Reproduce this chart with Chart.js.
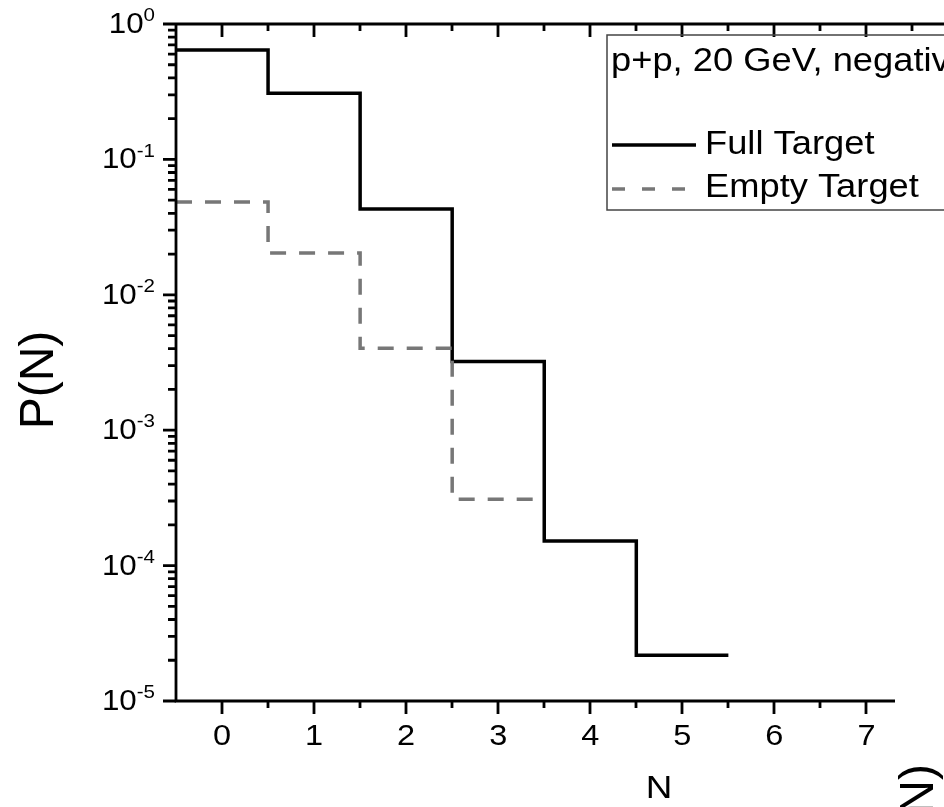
<!DOCTYPE html>
<html>
<head>
<meta charset="utf-8">
<script src="https://cdn.jsdelivr.net/npm/chart.js@4/dist/chart.umd.min.js"></script>
<style>
  html, body { margin: 0; padding: 0; background: #fff; }
  #wrap { width: 944px; height: 807px; position: relative; }
</style>
</head>
<body>
<div id="wrap"><canvas id="multChart" width="944" height="807"></canvas></div>
<script>
// multiplicity bins N and the probability in each bin
const binsFull = [0, 1, 2, 3, 4, 5];
const probFull = [0.642, 0.308, 0.043, 0.00321, 0.000152, 0.0000218];

const binsEmpty = [0, 1, 2, 3];
const probEmpty = [0.0485, 0.0204, 0.00403, 0.000309];

const xTicks = [0, 1, 2, 3, 4, 5, 6, 7];
const yDecades = [-5, -4, -3, -2, -1, 0];

const legendTitle = 'p+p, 20 GeV, negative';
const seriesNames = ['Full Target', 'Empty Target'];

const FONT = '"Liberation Sans", Arial, sans-serif';

// turn bin centres into a histogram outline: each bin spans n-0.5 .. n+0.5
function histPoints(bins, vals) {
    const pts = [];
    bins.forEach((n, i) => {
        pts.push({ x: n - 0.5, y: vals[i] });
        pts.push({ x: n + 0.5, y: vals[i] });
    });
    return pts;
}

// text in this figure is a little wider than the plain font
function wideText(ctx, str, x, y, sx) {
    ctx.save();
    ctx.translate(x, y);
    ctx.scale(sx, 1);
    ctx.fillText(str, 0, 0);
    ctx.restore();
}

// axes, ticks, labels and legend are drawn by hand to get the inward/outward tick style
const frame = {
    id: 'frame',
    afterDraw(chart) {
        const ctx = chart.ctx;
        const xs = chart.scales.x;
        const ys = chart.scales.y;
        const a = chart.chartArea;
        ctx.save();
        ctx.strokeStyle = '#000';
        ctx.fillStyle = '#000';
        ctx.lineWidth = 2.8;
        ctx.lineCap = 'butt';

        // axis lines
        ctx.beginPath();
        ctx.moveTo(a.left, a.top);
        ctx.lineTo(a.left, a.bottom);
        ctx.lineTo(a.right, a.bottom);
        ctx.moveTo(a.left, a.top);
        ctx.lineTo(chart.width + 5, a.top);
        ctx.stroke();

        // x ticks: bottom outward, top inward
        ctx.beginPath();
        for (let v = 0; v <= 8; v += 0.5) {
            const px = Math.round(xs.getPixelForValue(v));
            const major = v % 1 === 0;
            const len = major ? 13 : 7;
            if (px <= a.right) {
                ctx.moveTo(px, a.bottom);
                ctx.lineTo(px, a.bottom + len);
            }
            if (px <= chart.width) {
                ctx.moveTo(px, a.top);
                ctx.lineTo(px, a.top + len);
            }
        }
        ctx.stroke();

        // y ticks: decades and minor 2..9, outward
        ctx.beginPath();
        yDecades.forEach(d => {
            const base = Math.pow(10, d);
            const py = ys.getPixelForValue(base);
            ctx.moveTo(a.left, py);
            ctx.lineTo(a.left - 13, py);
            if (d < 0) {
                for (let m = 2; m <= 9; m++) {
                    const my = ys.getPixelForValue(base * m);
                    ctx.moveTo(a.left, my);
                    ctx.lineTo(a.left - 8, my);
                }
            }
        });
        ctx.stroke();

        // x tick labels
        ctx.font = '29px ' + FONT;
        ctx.textAlign = 'center';
        ctx.textBaseline = 'middle';
        xTicks.forEach(v => {
            wideText(ctx, String(v), xs.getPixelForValue(v), a.bottom + 36, 1.12);
        });

        // y tick labels as 10 with a raised exponent
        ctx.textAlign = 'left';
        yDecades.forEach(d => {
            const py = ys.getPixelForValue(Math.pow(10, d));
            const exp = String(d);
            ctx.font = '19px ' + FONT;
            const ew = ctx.measureText(exp).width * 1.08;
            ctx.font = '29px ' + FONT;
            const bw = ctx.measureText('10').width * 1.08;
            const x0 = 155 - ew - bw;
            wideText(ctx, '10', x0, py + 1, 1.08);
            ctx.font = '19px ' + FONT;
            wideText(ctx, exp, x0 + bw, py - 8, 1.08);
        });

        // axis titles
        ctx.font = '32px ' + FONT;
        ctx.textAlign = 'center';
        wideText(ctx, 'N', 659, 789, 1.15);

        ctx.font = '48px ' + FONT;
        ctx.save();
        ctx.translate(40, 380);
        ctx.rotate(-Math.PI / 2);
        ctx.fillText('P(N)', 0, 0);
        ctx.restore();

        // neighbouring panel's y title, cut by the edge
        ctx.save();
        ctx.translate(920, 764);
        ctx.rotate(-Math.PI / 2);
        ctx.textAlign = 'right';
        ctx.fillText('P(N)', 0, 0);
        ctx.restore();

        // legend box
        ctx.lineWidth = 1.5;
        ctx.strokeStyle = '#444';
        ctx.strokeRect(607, 35, 400, 175);

        ctx.textAlign = 'left';
        ctx.fillStyle = '#000';
        ctx.textBaseline = 'alphabetic';
        ctx.font = '33px ' + FONT;
        wideText(ctx, legendTitle, 611, 71, 1.1);

        ctx.lineWidth = 3.5;
        ctx.strokeStyle = '#000';
        ctx.beginPath();
        ctx.moveTo(612, 145);
        ctx.lineTo(696, 145);
        ctx.stroke();

        ctx.strokeStyle = '#777';
        ctx.setLineDash([13, 17]);
        ctx.beginPath();
        ctx.moveTo(612, 189);
        ctx.lineTo(696, 189);
        ctx.stroke();
        ctx.setLineDash([]);

        ctx.font = '33px ' + FONT;
        ctx.textBaseline = 'middle';
        wideText(ctx, seriesNames[0], 705, 145, 1.1);
        wideText(ctx, seriesNames[1], 705, 188, 1.1);

        ctx.restore();
    }
};

new Chart(document.getElementById('multChart'), {
    type: 'line',
    data: {
        datasets: [{
            label: seriesNames[1],
            data: histPoints(binsEmpty, probEmpty),
            borderColor: '#777',
            borderWidth: 3.5,
            borderDash: [16, 13],
            pointRadius: 0,
            fill: false
        }, {
            label: seriesNames[0],
            data: histPoints(binsFull, probFull),
            borderColor: '#000',
            borderWidth: 3.5,
            pointRadius: 0,
            fill: false
        }]
    },
    options: {
        responsive: false,
        animation: false,
        events: [],
        layout: { padding: { left: 176, top: 24, right: 49, bottom: 106 } },
        plugins: { legend: { display: false }, tooltip: { enabled: false } },
        scales: {
            x: { type: 'linear', min: -0.5, max: 7.31, display: false },
            y: { type: 'logarithmic', min: 1e-5, max: 1, display: false }
        }
    },
    plugins: [frame]
});
</script>
</body>
</html>
